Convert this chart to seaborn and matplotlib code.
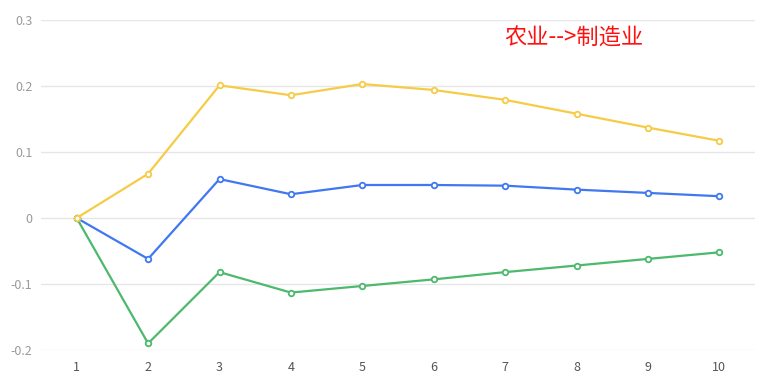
import pandas as pd
import matplotlib
matplotlib.use("Agg")
import matplotlib.pyplot as plt
import seaborn as sns

periods = [1, 2, 3, 4, 5, 6, 7, 8, 9, 10]
blue_vals = [0.0, -0.062, 0.059, 0.036, 0.050, 0.050, 0.049, 0.043, 0.038, 0.033]
green_vals = [0.0, -0.190, -0.082, -0.113, -0.103, -0.093, -0.082, -0.072, -0.062, -0.052]
yellow_vals = [0.0, 0.067, 0.201, 0.186, 0.203, 0.194, 0.179, 0.158, 0.137, 0.117]
series_names = ["blue", "green", "yellow"]
colors = ["#3f78f2", "#4cb96d", "#f6cb46"]
title_text = "农业-->制造业"

rows = []
for name, vals in zip(series_names, [blue_vals, green_vals, yellow_vals]):
    for p, v in zip(periods, vals):
        rows.append({"period": p, "value": v, "series": name})
df = pd.DataFrame(rows)

sns.set_style("white")
plt.rcParams["font.family"] = ["Noto Sans CJK SC", "DejaVu Sans"]

fig = plt.figure(figsize=(7.66, 3.81), dpi=100)
ax = fig.add_axes([41 / 766, 31 / 381, 714 / 766, 330 / 381])

sns.lineplot(data=df, x="period", y="value", hue="series", palette=colors,
             marker="o", markersize=4, markerfacecolor="white",
             markeredgewidth=1.3, linewidth=1.6, legend=False, ax=ax)
# hollow markers keep line colour on edges
for line, c in zip(ax.lines, colors):
    line.set_markeredgecolor(c)

ax.set_xlim(0.5, 10.5)
ax.set_ylim(-0.2, 0.3)
ax.set_xticks(periods)
ax.set_xticklabels([str(p) for p in periods])
ax.set_yticks([-0.2, -0.1, 0, 0.1, 0.2, 0.3])
ax.set_yticklabels(["-0.2", "-0.1", "0", "0.1", "0.2", "0.3"])
ax.grid(axis="y", color="#e6e6e6", linewidth=1)
ax.set_axisbelow(True)
for s in ax.spines.values():
    s.set_visible(False)
ax.tick_params(axis="y", length=0, pad=6, labelsize=9, labelcolor="#9a9a9a")
ax.tick_params(axis="x", length=0, pad=8, labelsize=9, labelcolor="#555555")
ax.set_xlabel("")
ax.set_ylabel("")

fig.text(504 / 766, 1 - 38 / 381, title_text, color="#ff1010", fontsize=16,
         va="center", ha="left")

fig.savefig("out.png", dpi=100)
